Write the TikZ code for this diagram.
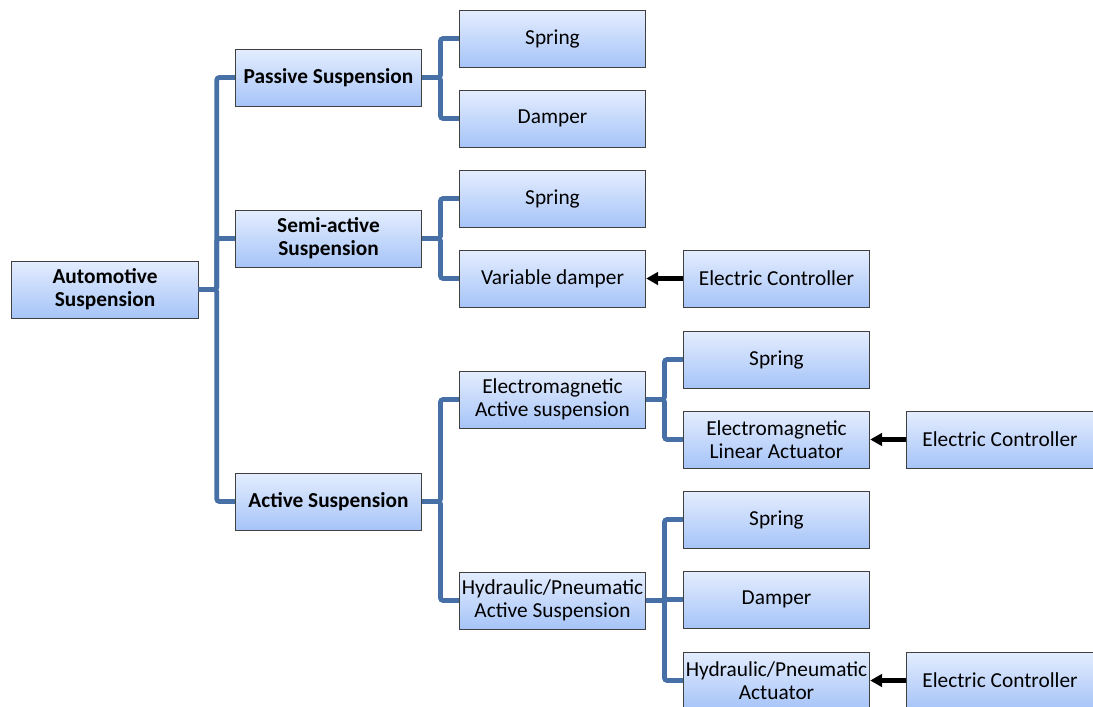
\documentclass[tikz,border=0pt]{standalone}
\usepackage{fontspec}
\setmainfont{Carlito}
\usetikzlibrary{arrows.meta,calc}
\definecolor{boxtop}{HTML}{E4EDFE}
\definecolor{boxbottom}{HTML}{A6C4F8}
\definecolor{boxline}{HTML}{404040}
\definecolor{busline}{HTML}{4670A6}

\tikzset{
  susbox/.style={rectangle, draw=boxline, line width=0.6pt, top color=boxtop, bottom color=boxbottom,
    minimum width=140pt, minimum height=42.75pt, align=center, font=\fontsize{16}{17.5}\selectfont, inner sep=1pt},
  headbox/.style={susbox, font=\fontsize{16}{17.5}\selectfont\bfseries},
  bus/.style={draw=busline, line width=3.6pt, rounded corners=2pt},
  ctrl/.style={draw=black, line width=3.4pt, -{Triangle[length=9pt,width=9.5pt]}}
}

\begin{document}
\begin{tikzpicture}[x=0.75pt, y=-0.75pt]
  \useasboundingbox (0,0) rectangle (1093,707);

  % Root
  \node[headbox] (root) at (105,289.5) {Automotive\\Suspension};

  % Suspension types
  \node[headbox] (passive) at (328.5,77.5) {Passive Suspension};
  \node[headbox] (semi) at (328.5,238.5) {Semi-active\\Suspension};
  \node[headbox] (active) at (328.5,501.5) {Active Suspension};

  % Passive parts
  \node[susbox] (pspring) at (552.5,38.5) {Spring};
  \node[susbox] (pdamper) at (552.5,118.5) {Damper};

  % Semi-active parts
  \node[susbox] (sspring) at (552.5,198.5) {Spring};
  \node[susbox] (sdamper) at (552.5,278.5) {Variable damper};
  \node[susbox] (sctrl) at (776.5,278.5) {Electric Controller};

  % Active types
  \node[susbox] (emact) at (552.5,399.5) {Electromagnetic\\Active suspension};
  \node[susbox] (hpact) at (552.5,600.5) {Hydraulic/Pneumatic\\Active Suspension};

  % Electromagnetic parts
  \node[susbox] (espring) at (776.5,359.5) {Spring};
  \node[susbox] (eactuator) at (776.5,439.5) {Electromagnetic\\Linear Actuator};
  \node[susbox] (ectrl) at (1000,439.5) {Electric Controller};

  % Hydraulic/Pneumatic parts
  \node[susbox] (hspring) at (776.5,519.5) {Spring};
  \node[susbox] (hdamper) at (776.5,599.5) {Damper};
  \node[susbox] (hactuator) at (776.5,680.5) {Hydraulic/Pneumatic\\Actuator};
  \node[susbox] (hctrl) at (1000,680.5) {Electric Controller};

  % Tree connectors
  \coordinate (rootbus) at ($(root.east)!0.5!(root.east -| semi.west)$);
  \foreach \c in {passive,semi,active}
    \draw[bus] (root.east) -- (rootbus) |- (\c.west);

  \coordinate (passbus) at ($(passive.east)!0.5!(passive.east -| pspring.west)$);
  \foreach \c in {pspring,pdamper}
    \draw[bus] (passive.east) -- (passbus) |- (\c.west);

  \coordinate (semibus) at ($(semi.east)!0.5!(semi.east -| sspring.west)$);
  \foreach \c in {sspring,sdamper}
    \draw[bus] (semi.east) -- (semibus) |- (\c.west);

  \coordinate (actbus) at ($(active.east)!0.5!(active.east -| emact.west)$);
  \foreach \c in {emact,hpact}
    \draw[bus] (active.east) -- (actbus) |- (\c.west);

  \coordinate (embus) at ($(emact.east)!0.5!(emact.east -| espring.west)$);
  \foreach \c in {espring,eactuator}
    \draw[bus] (emact.east) -- (embus) |- (\c.west);

  \coordinate (hpbus) at ($(hpact.east)!0.5!(hpact.east -| hspring.west)$);
  \foreach \c in {hspring,hdamper,hactuator}
    \draw[bus] (hpact.east) -- (hpbus) |- (\c.west);

  % Controllers
  \draw[ctrl] (sctrl) -- (sdamper);
  \draw[ctrl] (ectrl) -- (eactuator);
  \draw[ctrl] (hctrl) -- (hactuator);
\end{tikzpicture}
\end{document}
